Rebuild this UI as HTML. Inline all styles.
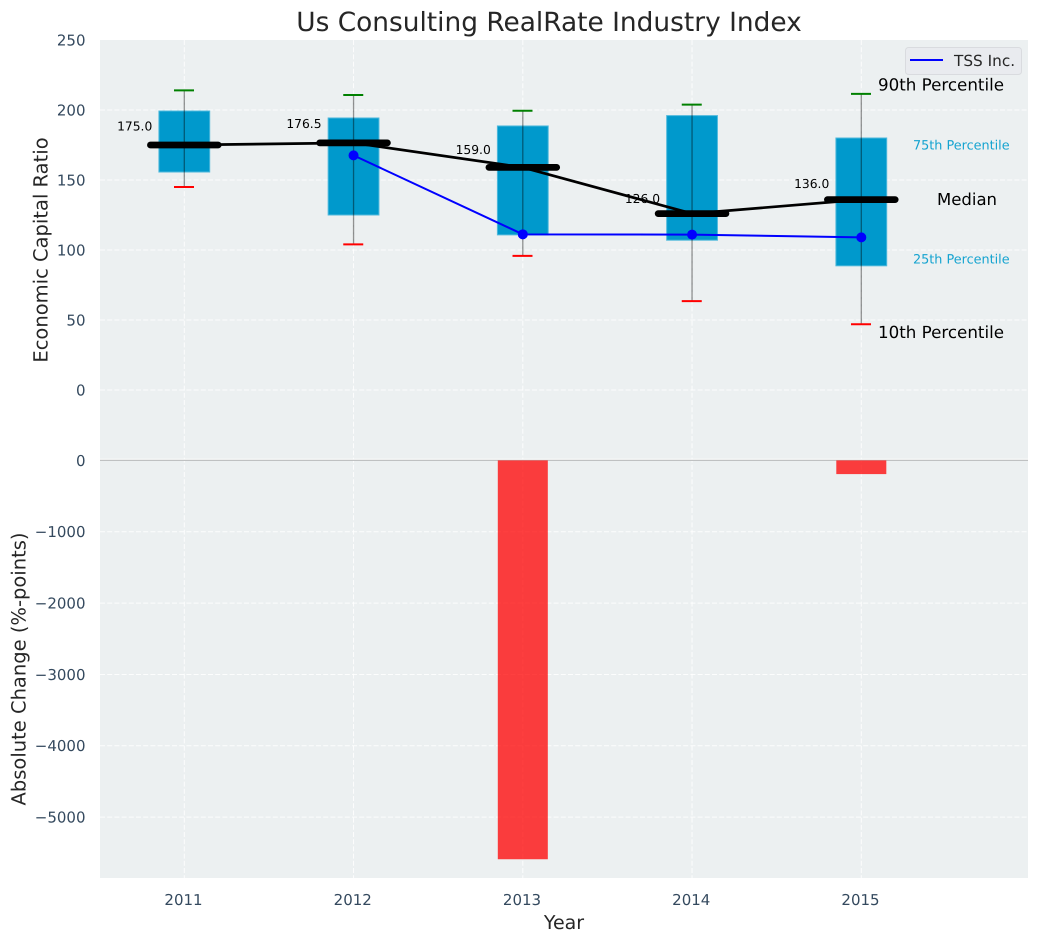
<!DOCTYPE html>
<html lang="en">
<head>
<meta charset="utf-8">
<title>Us Consulting RealRate Industry Index</title>
<style>
html,body{margin:0;padding:0;background:#fff;}
svg{display:block;font-family:"DejaVu Sans","Liberation Sans",sans-serif;text-rendering:geometricPrecision;}
</style>
</head>
<body>
<svg id="chart" xmlns="http://www.w3.org/2000/svg" width="1039" height="942" viewBox="0 0 1039 942"></svg>
<script>
const years = [2011, 2012, 2013, 2014, 2015];
const p90 = [214, 210.7, 199.5, 203.8, 211.5];
const p75 = [199.3, 194.3, 188.6, 196, 180];
const medians = [175, 176.5, 159, 126, 136];
const p25 = [155.7, 125, 110.8, 107, 88.7];
const p10 = [145, 104, 95.8, 63.5, 47];
const tssYears = [2012, 2013, 2014, 2015];
const tssValues = [167.6, 111.2, 111, 109];
const changes = [0, 0, -5590, 0, -192];
const upperTicks = [250, 200, 150, 100, 50, 0];
const lowerTicks = [0, -1000, -2000, -3000, -4000, -5000];

const NS = 'http://www.w3.org/2000/svg';
const svg = document.getElementById('chart');
const plot = {left: 100, right: 1028, top: 40, mid: 460, bottom: 878};
const x = v => 184.3 + (v - 2011) * 169.25;
const yTop = v => 390 - v * 1.4;
const yLow = v => 460.4 - v * 0.07135;

function make(tag, attrs, text) {
  const node = document.createElementNS(NS, tag);
  for (const key in attrs) node.setAttribute(key, attrs[key]);
  if (text !== undefined) node.textContent = text;
  svg.appendChild(node);
  return node;
}
const fmtTick = v => (v < 0 ? '\u2212' + Math.abs(v) : String(v));
const GRID = {stroke: '#ffffff', 'stroke-width': 1, 'stroke-dasharray': '5 2.2', 'stroke-opacity': 0.85};

const bg = make('rect', {x: plot.left, y: plot.top, width: plot.right - plot.left, height: plot.bottom - plot.top, fill: '#ecf0f1'});



upperTicks.forEach(t => {
  if (t === 250) return;
  const g = make('line', Object.assign({x1: plot.left, x2: plot.right, y1: yTop(t), y2: yTop(t)}, GRID));
  
  
});
lowerTicks.forEach(t => {
  if (t === 0) return;
  const g = make('line', Object.assign({x1: plot.left, x2: plot.right, y1: yLow(t), y2: yLow(t)}, GRID));
  
  
});
years.forEach(yr => {
  const g = make('line', Object.assign({x1: x(yr), x2: x(yr), y1: plot.top, y2: plot.bottom}, GRID));
  
  
});

const seam = make('line', {x1: plot.left, x2: plot.right, y1: 459.2, y2: 459.2, stroke: '#ffffff', 'stroke-width': 1});


const zero = make('line', {x1: plot.left, x2: plot.right, y1: 460.4, y2: 460.4, stroke: '#bfc1c2', 'stroke-width': 1.3});



years.forEach((yr, i) => {
  if (changes[i] === 0) return;
  const bar = make('rect', {x: x(yr) - 0.1477 * 169.25, width: 0.2955 * 169.25, y: yLow(0), height: yLow(changes[i]) - yLow(0), fill: '#ff0000', 'fill-opacity': 0.75});
  
  
});

years.forEach((yr, i) => {
  const box = make('rect', {x: x(yr) - 25.4, width: 50.8, y: yTop(p75[i]), height: yTop(p25[i]) - yTop(p75[i]), fill: '#0099cc', stroke: '#4fb9dc', 'stroke-width': 1});
  
  
  const w = make('line', {x1: x(yr), x2: x(yr), y1: yTop(p90[i]), y2: yTop(p10[i]), stroke: '#000000', 'stroke-opacity': 0.42, 'stroke-width': 1.3});
  
  
  const capHi = make('line', {x1: x(yr) - 10.3, x2: x(yr) + 9.7, y1: yTop(p90[i]), y2: yTop(p90[i]), stroke: '#008000', 'stroke-width': 2});
  
  
  const capLo = make('line', {x1: x(yr) - 10.3, x2: x(yr) + 9.7, y1: yTop(p10[i]), y2: yTop(p10[i]), stroke: '#ff0000', 'stroke-width': 2});
  
  
});

const medianLine = make('polyline', {points: years.map((yr, i) => x(yr) + ',' + yTop(medians[i])).join(' '), fill: 'none', stroke: '#000000', 'stroke-width': 2.7});



years.forEach((yr, i) => {
  const m = make('line', {x1: x(yr) - 33.85, x2: x(yr) + 33.85, y1: yTop(medians[i]), y2: yTop(medians[i]), stroke: '#000000', 'stroke-width': 6.8, 'stroke-linecap': 'round'});
  
  
  const t = make('text', {x: x(yr) - 32, y: yTop(medians[i] * 1.06), 'text-anchor': 'end', 'font-size': 12.3, fill: '#000000'}, medians[i].toFixed(1));
  
  
});

const tssLine = make('polyline', {points: tssYears.map((yr, i) => x(yr) + ',' + yTop(tssValues[i])).join(' '), fill: 'none', stroke: '#0000ff', 'stroke-width': 2});


tssYears.forEach((yr, i) => {
  const dot = make('circle', {cx: x(yr), cy: yTop(tssValues[i]), r: 5, fill: '#0000ff'});
  
  
});

upperTicks.forEach(t => {
  const lab = make('text', {x: 85.5, y: yTop(t) + 5.4, 'text-anchor': 'end', 'font-size': 15, fill: '#34495e'}, fmtTick(t));
  
  
});
lowerTicks.forEach(t => {
  const lab = make('text', {x: 85.5, y: yLow(t) + 5.4, 'text-anchor': 'end', 'font-size': 15, fill: '#34495e'}, fmtTick(t));
  
  
});
years.forEach(yr => {
  const lab = make('text', {x: x(yr) - 0.8, y: 905, 'text-anchor': 'middle', 'font-size': 15, fill: '#34495e'}, String(yr));
  
  
});

const title = make('text', {x: 549, y: 31, 'text-anchor': 'middle', 'font-size': 26.4, fill: '#262626'}, 'Us Consulting RealRate Industry Index');


const xTitle = make('text', {x: 564, y: 929, 'text-anchor': 'middle', 'font-size': 19, fill: '#262626'}, 'Year');


const yTitleA = make('text', {transform: 'translate(47.5,250) rotate(-90)', 'text-anchor': 'middle', 'font-size': 19.5, fill: '#262626'}, 'Economic Capital Ratio');


const yTitleB = make('text', {transform: 'translate(25.5,669) rotate(-90)', 'text-anchor': 'middle', 'font-size': 19.5, fill: '#262626'}, 'Absolute Change (%-points)');



const a90 = make('text', {x: 878, y: 90.5, 'font-size': 16.7, fill: '#000000'}, '90th Percentile');


const a75 = make('text', {x: 913, y: 149.5, 'font-size': 12.8, fill: '#14a3d0'}, '75th Percentile');


const aMed = make('text', {x: 937, y: 205, 'font-size': 16.5, fill: '#000000'}, 'Median');


const a25 = make('text', {x: 913, y: 263.5, 'font-size': 12.8, fill: '#14a3d0'}, '25th Percentile');


const a10 = make('text', {x: 878, y: 338, 'font-size': 16.7, fill: '#000000'}, '10th Percentile');



const legendBox = make('rect', {x: 905.5, y: 47.5, width: 116, height: 27, rx: 3, fill: '#e9ebef', stroke: '#d9dbdf', 'stroke-width': 1});


const legendLine = make('line', {x1: 910, x2: 943, y1: 60, y2: 60, stroke: '#0000ff', 'stroke-width': 2});


const legendText = make('text', {x: 954, y: 66, 'font-size': 15.3, fill: '#262626'}, 'TSS Inc.');


</script>
</body>
</html>
